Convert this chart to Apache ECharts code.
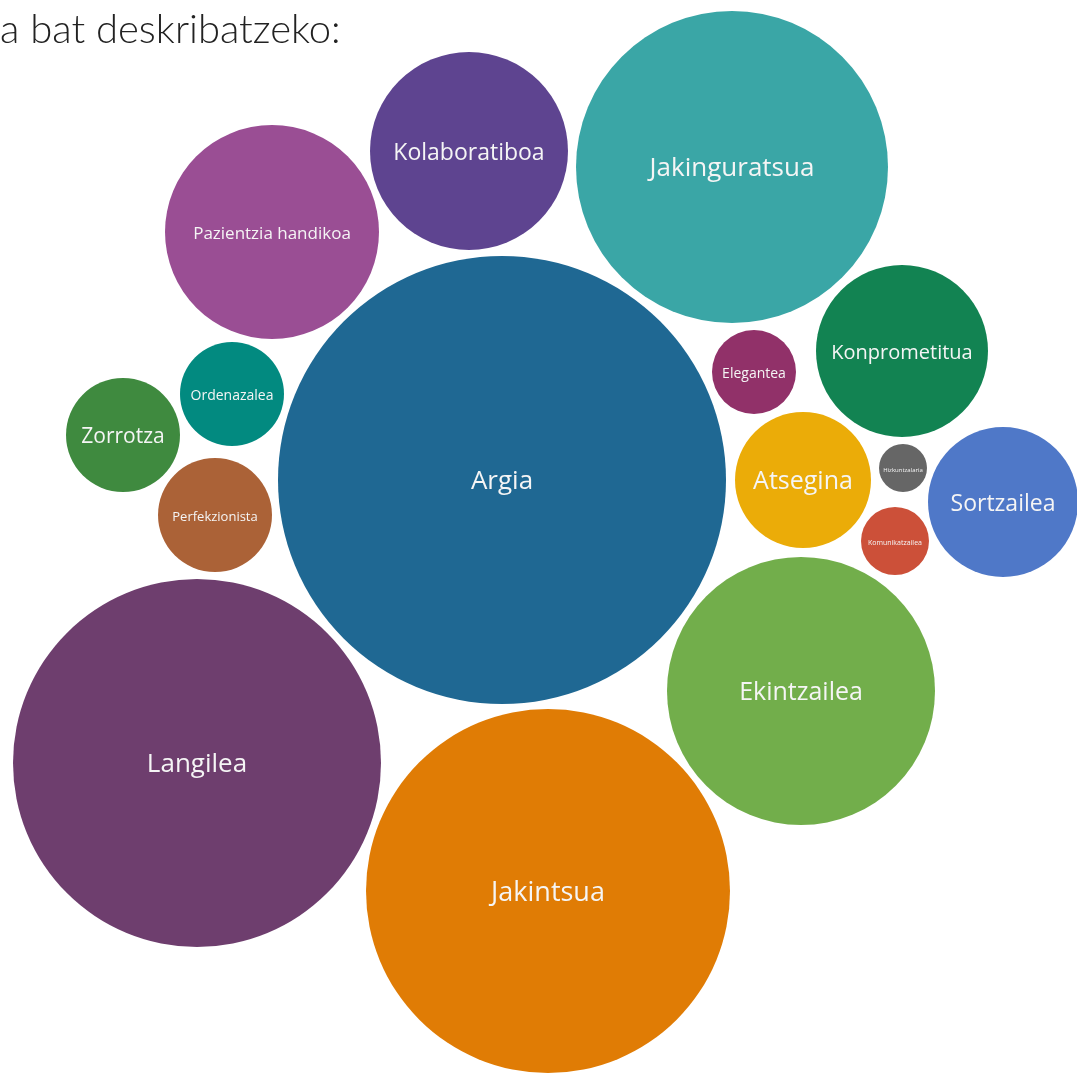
<!DOCTYPE html>
<html>
<head>
<meta charset="utf-8">
<script src="https://cdn.jsdelivr.net/npm/echarts@6/dist/echarts.min.js"></script>
<style>
  html, body { margin: 0; padding: 0; background: #fff; }
  #chart { width: 1077px; height: 1073px; }
</style>
</head>
<body>
<div id="chart"></div>
<script>
// bubbles: name, x, y (layout units), radius
const names = ["Argia", "Jakinguratsua", "Kolaboratiboa", "Pazientzia handikoa", "Ordenazalea",
  "Zorrotza", "Perfekzionista", "Langilea", "Jakintsua", "Ekintzailea", "Konprometitua",
  "Elegantea", "Atsegina", "Hizkuntzalaria", "Komunikatzailea", "Sortzailea"];
const xs = [502, 732, 469, 272, 232, 123, 215, 197, 548, 801, 902, 754, 803, 903, 895, 1003];
const ys = [480, 167, 151, 232, 394, 435, 515, 763, 891, 691, 351, 372, 480, 468, 541, 502];
const radii = [224, 156, 99, 107, 52, 57, 57, 184, 182, 134, 86, 42, 68, 24, 34, 75];
const colors = ["#1f6893", "#3aa6a6", "#5e4490", "#9a4e94", "#028a80", "#3f8a3f", "#ab6237",
  "#6e3e6e", "#e07c05", "#72ae4b", "#128352", "#913169", "#ebac08", "#666666", "#cc5039", "#4f78c8"];
const fontSizes = [26, 26, 23, 17, 14, 21, 13, 26, 27, 25, 20, 14, 25, 6, 7, 23];

const chart = echarts.init(document.getElementById("chart"));

const options = {
  animation: false,
  graphic: [{
    type: "text",
    left: 0,
    top: 10,
    style: { text: "a bat deskribatzeko:", fontFamily: "Lato", fontWeight: 300, fontSize: 40, fill: "#222" }
  }],
  grid: { left: 0, right: 0, top: 0, bottom: 0 },
  xAxis: { type: "value", min: 0, max: 1077, show: false },
  yAxis: { type: "value", min: 0, max: 1073, inverse: true, show: false },
  series: [{
    type: "scatter",
    symbol: "circle",
    data: names.map((n, i) => ({
      name: n,
      value: [xs[i], ys[i], radii[i]],
      itemStyle: { color: colors[i] },
      label: { fontSize: fontSizes[i] }
    })),
    symbolSize: v => v[2] * 2,
    itemStyle: { opacity: 1 },
    label: {
      show: true,
      position: "inside",
      offset: [0, 2],
      formatter: p => p.name,
      color: "#f5f5f5",
      fontFamily: "Open Sans"
    }
  }]
};

chart.setOption(options);
</script>
</body>
</html>
